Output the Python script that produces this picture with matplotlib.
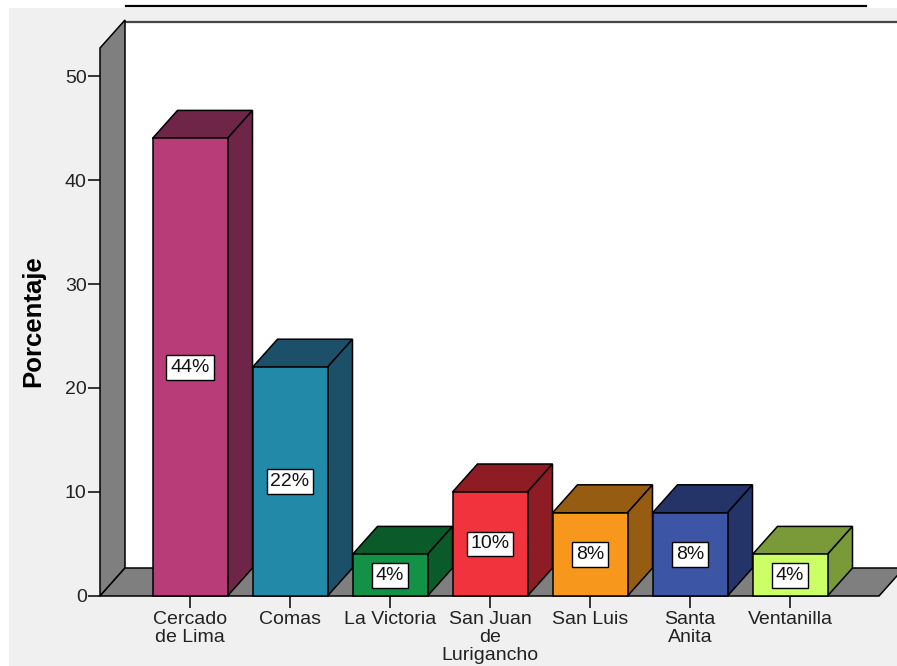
import matplotlib
matplotlib.use("Agg")
import matplotlib.pyplot as plt
from matplotlib.patches import Polygon, Rectangle
from matplotlib.lines import Line2D

categories = ["Cercado\nde Lima", "Comas", "La Victoria", "San Juan\nde\nLurigancho",
              "San Luis", "Santa\nAnita", "Ventanilla"]
values = [44, 22, 4, 10, 8, 8, 4]
front_colors = ["#b83c78", "#2389a8", "#139147", "#f0333d", "#f7981d", "#3c55a5", "#ccff66"]
dark_colors = ["#6e2548", "#1b5068", "#0b5a2a", "#8e1c24", "#955c12", "#243468", "#7a9a3a"]
yticks = [0, 10, 20, 30, 40, 50]

plt.rcParams['font.family'] = ['Liberation Sans', 'DejaVu Sans']

W, H = 897, 666
fig = plt.figure(figsize=(W / 100, H / 100), dpi=100)
fig.patch.set_facecolor("white")
# grey panel background and top line
bg = Rectangle((9 / W, 0), 1 - 9 / W, 1 - 8 / H, transform=fig.transFigure,
               facecolor="#f0f0f0", edgecolor="none", zorder=-10)
fig.add_artist(bg)
fig.add_artist(Line2D([126 / W, 866 / W], [1 - 5.5 / H, 1 - 5.5 / H], transform=fig.transFigure,
                      color="black", lw=1.6, zorder=-5))

px_per_unit = 10.4
ax = fig.add_axes([100 / W, 70 / H, 797 / W, 575 / H])
ax.set_zorder(1)
ax.set_facecolor("none")
x0 = -0.9
x1 = x0 + 797 / 100
ytop = 575 / px_per_unit
ax.set_xlim(x0, x1)
ax.set_ylim(0, ytop)
for s in ax.spines.values():
    s.set_visible(False)

DX = 0.25
DY = 28 / px_per_unit
bw = 0.75
edge = dict(edgecolor="black", linewidth=1.1, joinstyle="miter")

# back wall (white) with top border
ax.add_patch(Polygon([(x0 + DX, DY), (x0 + DX, ytop), (x1 + 0.1, ytop), (x1 + 0.1, DY)],
                     closed=True, facecolor="white", edgecolor="none", clip_on=False, zorder=1))
ax.add_line(Line2D([x0 + DX, x1 + 0.1], [ytop - 0.1, ytop - 0.1], color="#444444", lw=1.6,
                   clip_on=False, zorder=2))
# left wall
wall_h = 548 / px_per_unit
ax.add_patch(Polygon([(x0, 0), (x0, wall_h), (x0 + DX, wall_h + DY), (x0 + DX, DY)],
                     closed=True, facecolor="#7f7f7f", clip_on=False, zorder=2, **edge))
# floor
floor_r = (879 - 190) / 100
ax.add_patch(Polygon([(x0, 0), (floor_r, 0), (floor_r + DX, DY), (x0 + DX, DY)],
                     closed=True, facecolor="#7f7f7f", clip_on=False, zorder=2, **edge))

for i, (v, fc, dc) in enumerate(zip(values, front_colors, dark_colors)):
    L, R = i - bw / 2, i + bw / 2
    z = 3 + i
    ax.add_patch(Polygon([(L, v), (R, v), (R + DX, v + DY), (L + DX, v + DY)], closed=True,
                         facecolor=dc, zorder=z, clip_on=False, **edge))
    ax.add_patch(Polygon([(R, 0), (R, v), (R + DX, v + DY), (R + DX, DY)], closed=True,
                         facecolor=dc, zorder=z, clip_on=False, **edge))
    ax.add_patch(Polygon([(L, 0), (L, v), (R, v), (R, 0)], closed=True,
                         facecolor=fc, zorder=z, clip_on=False, **edge))
    ax.text(i, v / 2, f"{v}%", ha="center", va="center", fontsize=14, color="#111111",
            zorder=20, bbox=dict(boxstyle="square,pad=0.2", facecolor="white",
                                  edgecolor="black", linewidth=1.0))

ax.set_xticks(range(len(categories)))
ax.set_xticklabels(categories, fontsize=14, color="#222222", linespacing=1.08)
ax.set_yticks(yticks)
ax.set_yticklabels([str(t) for t in yticks], fontsize=14, color="#222222")
ax.tick_params(axis="both", direction="out", length=8.6, width=1.1, color="black")
ax.tick_params(axis="y", pad=1)
ax.tick_params(axis="x", pad=2)

fig.text(33 / W, 1 - 321 / H, "Porcentaje", rotation=90, ha="center", va="center",
         fontsize=18.5, fontweight="bold", color="black")

fig.savefig("out.png", dpi=100, facecolor=fig.get_facecolor())
